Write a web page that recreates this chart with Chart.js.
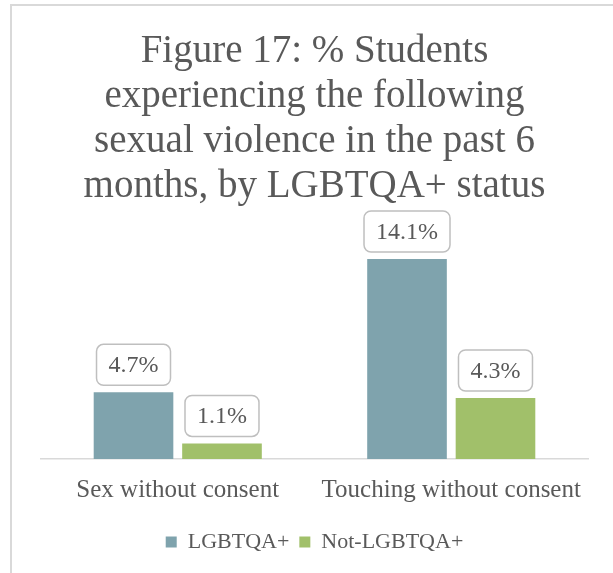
<!DOCTYPE html>
<html>
<head>
<meta charset="utf-8">
<script src="https://cdn.jsdelivr.net/npm/chart.js@4/dist/chart.umd.min.js"></script>
<style>
  html, body { margin: 0; padding: 0; background: #ffffff; overflow: hidden; }
  #frame { position: absolute; left: 10px; top: 4px; width: 800px; height: 800px;
           border-left: 2px solid #d9d9d9; border-top: 2px solid #d9d9d9; }
  #c { position: absolute; left: 0; top: 0; }
</style>
</head>
<body>
<div id="frame"></div>
<canvas id="c" width="613" height="573"></canvas>
<script>
const categories = ["Sex without consent", "Touching without consent"];
const seriesNames = ["LGBTQA+", "Not-LGBTQA+"];
const lgbtqaValues = [4.7, 14.1];
const notLgbtqaValues = [1.1, 4.3];
const titleLines = ["Figure 17: % Students", "experiencing the following", "sexual violence in the past 6", "months, by LGBTQA+ status"];

const FONT = "'Liberation Serif', 'Times New Roman', serif";
const TEXT = "#595959";

const labelBoxes = {
  id: "labelBoxes",
  afterDatasetsDraw(chart) {
    const ctx = chart.ctx;
    ctx.save();
    ctx.font = "24px " + FONT;
    chart.data.datasets.forEach((ds, di) => {
      const meta = chart.getDatasetMeta(di);
      meta.data.forEach((bar, i) => {
        const txt = ds.data[i].toFixed(1) + "%";
        const tw = ctx.measureText(txt).width;
        const w = tw + 24, h = 41;
        const x = bar.x - w / 2;
        const y = bar.y - 7 - h;
        ctx.beginPath();
        ctx.roundRect(x, y, w, h, 7);
        ctx.fillStyle = "#ffffff";
        ctx.fill();
        ctx.lineWidth = 1.5;
        ctx.strokeStyle = "#bfbfbf";
        ctx.stroke();
        ctx.fillStyle = TEXT;
        ctx.textAlign = "center";
        ctx.textBaseline = "middle";
        ctx.fillText(txt, bar.x, y + h / 2 + 1);
      });
    });
    ctx.restore();
  }
};

new Chart(document.getElementById("c"), {
  type: "bar",
  data: {
    labels: categories,
    datasets: [
      { label: seriesNames[0], data: lgbtqaValues, backgroundColor: "#7fa3ad",
        categoryPercentage: 0.647, barPercentage: 0.9 },
      { label: seriesNames[1], data: notLgbtqaValues, backgroundColor: "#a1c06a",
        categoryPercentage: 0.647, barPercentage: 0.9 }
    ]
  },
  options: {
    responsive: false,
    animation: false,
    devicePixelRatio: 1,
    layout: { padding: { left: 41, right: 25, top: 0, bottom: 10 } },
    plugins: {
      title: {
        display: true,
        text: titleLines,
        color: TEXT,
        font: { family: FONT, size: 39, weight: "normal", lineHeight: 1.154 },
        padding: { top: 29, bottom: 23 }
      },
      legend: {
        position: "bottom",
        labels: {
          color: TEXT,
          font: { family: FONT, size: 22 },
          boxWidth: 11, boxHeight: 11, padding: 10
        }
      },
      tooltip: { enabled: false }
    },
    scales: {
      x: {
        grid: { display: false, drawTicks: false },
        border: { display: true, color: "#d9d9d9", width: 1.5 },
        ticks: { color: TEXT, font: { family: FONT, size: 25 }, padding: 16, maxRotation: 0 }
      },
      y: { display: false, min: 0, max: 16 }
    }
  },
  plugins: [labelBoxes]
});
</script>
</body>
</html>
